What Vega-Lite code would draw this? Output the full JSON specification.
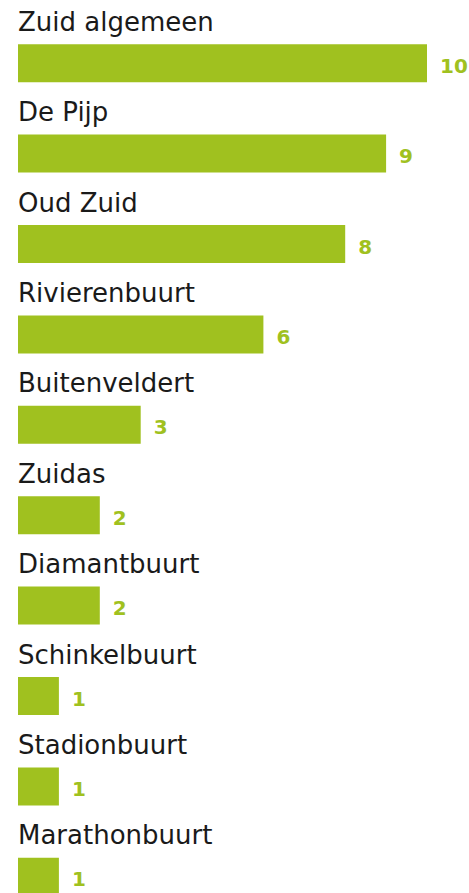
{
  "$schema": "https://vega.github.io/schema/vega-lite/v6.json",
  "width": 409,
  "height": 904,
  "padding": {"left": 18, "top": 0, "right": 0, "bottom": 0},
  "background": "white",
  "config": {"view": {"stroke": null}},
  "data": {"values": [
    {"name": "Zuid algemeen", "value": 10},
    {"name": "De Pijp", "value": 9},
    {"name": "Oud Zuid", "value": 8},
    {"name": "Rivierenbuurt", "value": 6},
    {"name": "Buitenveldert", "value": 3},
    {"name": "Zuidas", "value": 2},
    {"name": "Diamantbuurt", "value": 2},
    {"name": "Schinkelbuurt", "value": 1},
    {"name": "Stadionbuurt", "value": 1},
    {"name": "Marathonbuurt", "value": 1}
  ]},
  "encoding": {
    "y": {"field": "name", "type": "nominal", "sort": null, "axis": null,
          "scale": {"paddingInner": 0, "paddingOuter": 0}}
  },
  "layer": [
    {
      "mark": {"type": "bar", "height": 38, "yOffset": 18, "color": "#a0c11f"},
      "encoding": {
        "x": {"field": "value", "type": "quantitative", "axis": null,
              "scale": {"domain": [0, 10], "nice": false}}
      }
    },
    {
      "mark": {"type": "text", "align": "left", "baseline": "alphabetic", "dy": -14.5,
               "font": "DejaVu Sans", "fontSize": 26, "color": "#1a1a1a"},
      "encoding": {
        "x": {"datum": 0, "type": "quantitative"},
        "text": {"field": "name"}
      }
    },
    {
      "mark": {"type": "text", "align": "left", "baseline": "alphabetic", "dy": 27.5, "dx": 13,
               "font": "DejaVu Sans", "fontSize": 20, "fontWeight": "bold", "color": "#a0c11f"},
      "encoding": {
        "x": {"field": "value", "type": "quantitative"},
        "text": {"field": "value"}
      }
    }
  ]
}
